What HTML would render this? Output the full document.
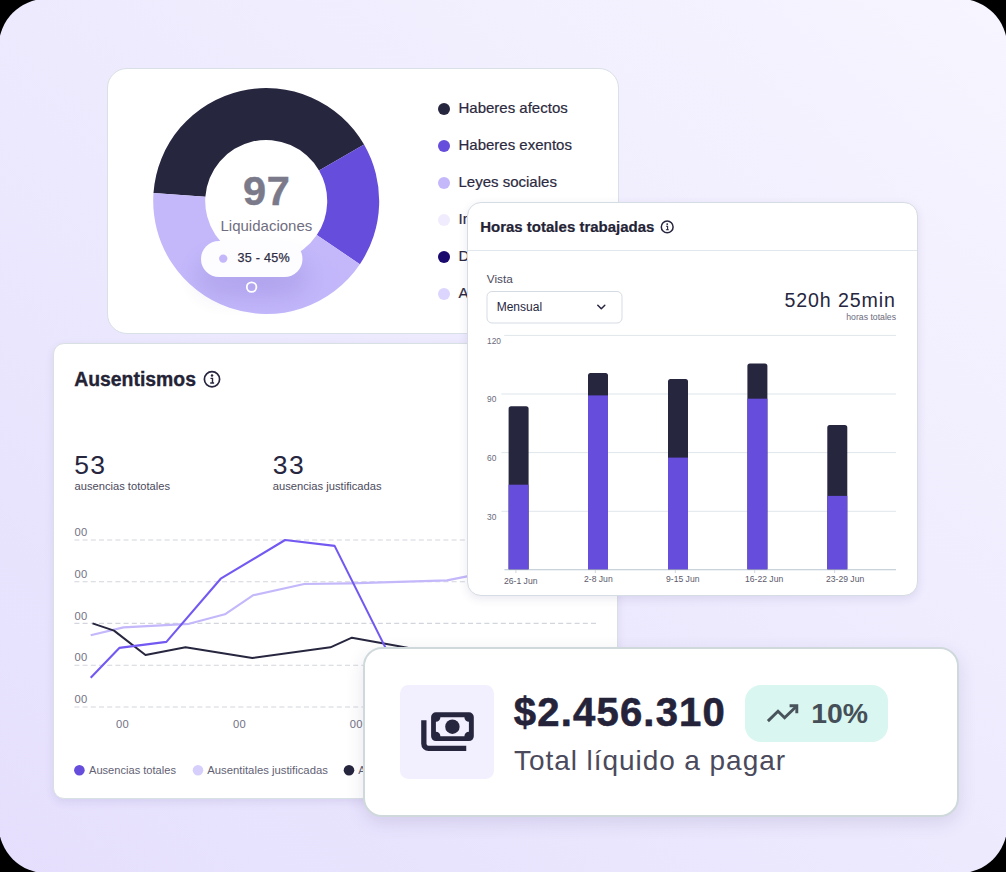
<!DOCTYPE html>
<html lang="es">
<head>
<meta charset="utf-8">
<title>Dashboard</title>
<style>
  html, body { margin: 0; padding: 0; background: #000; }
  body { width: 1006px; height: 872px; overflow: hidden; position: relative;
         font-family: "Liberation Sans", sans-serif; color: #27263f; }
  * { box-sizing: border-box; }
  .abs { position: absolute; }
  .t { position: absolute; white-space: nowrap; line-height: 1; }
  #stage { position: absolute; left: 0; top: 0; width: 1006px; height: 872px; overflow: hidden;
           background: transparent; }

  /* ---------- card 1 : donut ---------- */
  #donut-card { left: 107px; top: 68px; width: 512px; height: 266px; background: #fff;
                border: 1px solid #d9e0e6; border-radius: 20px; }
  .lg-dot { position: absolute; width: 12px; height: 12px; border-radius: 50%; margin-top: 0.4px; }
  .lg-txt { font-size: 15px; color: #2b2a40; margin-top: -1px; -webkit-text-stroke: 0.2px #2b2a40; }

  /* ---------- card 2 : ausentismos ---------- */
  #aus-card { left: 53.3px; top: 342.8px; width: 565px; height: 456.2px; background: #fff;
              border: 1px solid #d9e0e3; border-radius: 11px;
              box-shadow: 0 3px 8px rgba(70,60,130,0.10); }

  /* ---------- card 3 : horas ---------- */
  #hrs-card { left: 467px; top: 202px; width: 451px; height: 394px; background: #fff;
              border: 1px solid #d5dce3; border-radius: 14px;
              box-shadow: 0 3px 10px rgba(60,50,120,0.11); }

  .yl { font-size: 8.4px; color: #6b6a7b; }
  .xl { font-size: 8.6px; color: #5b5a6c; }

  .al { font-size: 11.2px; color: #737285; letter-spacing: 0.2px; }
  .ag { font-size: 11.1px; color: #626174; margin-top: 0.6px; }

  /* ---------- card 4 : total ---------- */
  #tot-card { left: 363.4px; top: 647.1px; width: 595.6px; height: 169.8px; background: #fff;
              border: 2px solid #cfd9dc; border-radius: 19px;
              box-shadow: 0 6px 18px rgba(60,50,110,0.13); }
</style>
</head>
<body>
<svg class="abs" style="left:0;top:0" width="1006" height="872" viewBox="0 0 1006 872">
  <defs>
    <linearGradient id="bggrad" gradientUnits="userSpaceOnUse" x1="71.4" y1="933.9" x2="934.6" y2="-61.9">
      <stop offset="0" stop-color="#e5dffd"/><stop offset="0.5" stop-color="#edeafe"/><stop offset="1" stop-color="#f7f5ff"/>
    </linearGradient>
  </defs>
  <rect x="-1.25" y="-1.25" width="1008.5" height="874.5" rx="48" ry="48" fill="url(#bggrad)"/>
</svg>
<div id="stage">

  <!-- ===================== DONUT CARD ===================== -->
  <div id="donut-card" class="abs"></div>
  <svg class="abs" style="left:0;top:0" width="1006" height="872" viewBox="0 0 1006 872">
    <defs>
      <clipPath id="lavclip"><path d="M359.88 264.19A113 113 0 0 1 153.48 193.12L205.35 196.74A61 61 0 0 0 316.77 235.11Z"/></clipPath>
      <radialGradient id="lavshade" cx="0.5" cy="0.5" r="0.5">
        <stop offset="0" stop-color="#a999f0" stop-opacity="0.22"/>
        <stop offset="0.55" stop-color="#b3a4f5" stop-opacity="0.11"/>
        <stop offset="1" stop-color="#c4b8fb" stop-opacity="0"/>
      </radialGradient>
      <filter id="pillshadow" x="-60%" y="-150%" width="220%" height="400%">
        <feGaussianBlur stdDeviation="10"/>
      </filter>
    </defs>
    <path d="M153.48 193.12A113 113 0 0 1 364.06 144.50L319.03 170.50A61 61 0 0 0 205.35 196.74Z" fill="#27263f"/>
    <path d="M364.06 144.50A113 113 0 0 1 359.88 264.19L316.77 235.11A61 61 0 0 0 319.03 170.50Z" fill="#664ddb"/>
    <path d="M359.88 264.19A113 113 0 0 1 153.48 193.12L205.35 196.74A61 61 0 0 0 316.77 235.11Z" fill="#c4b8fb"/>
    <g clip-path="url(#lavclip)">
      <ellipse cx="262" cy="284" rx="105" ry="55" fill="url(#lavshade)"/>
    </g>
    <!-- tooltip pill -->
    <rect x="196" y="254" width="112" height="44" rx="22" fill="#4a3c98" opacity="0.10" filter="url(#pillshadow)"/>
    <rect x="201" y="241" width="101.5" height="36" rx="18" fill="#fdfcff"/>
    <circle cx="223.2" cy="258.6" r="4.2" fill="#c4b8fb"/>
    <circle cx="251.6" cy="287.1" r="4.8" fill="none" stroke="#ffffff" stroke-width="1.8"/>
  </svg>
  <div class="t" id="d-97" style="left:243px;top:169.5px;font-size:41.5px;font-weight:700;color:#7b7a8b;letter-spacing:0.7px;-webkit-text-stroke:0.5px #7b7a8b;">97</div>
  <div class="t" id="d-liq" style="left:220.5px;top:217.5px;font-size:15px;color:#6f6e80;">Liquidaciones</div>
  <div class="t" id="d-pct" style="left:237.5px;top:252px;font-size:12.6px;color:#2f2e44;letter-spacing:0.25px;-webkit-text-stroke:0.25px #2f2e44;">35 - 45%</div>

  <div class="lg-dot" style="left:438px;top:102.2px;background:#27263f"></div>
  <div class="lg-dot" style="left:438px;top:139.4px;background:#664ddb"></div>
  <div class="lg-dot" style="left:438px;top:176.4px;background:#c4b8fb"></div>
  <div class="lg-dot" style="left:438px;top:213.6px;background:#f0ecfe"></div>
  <div class="lg-dot" style="left:438px;top:250.9px;background:#1b0a6e"></div>
  <div class="lg-dot" style="left:438px;top:287.9px;background:#dcd5fd"></div>
  <div class="t lg-txt" id="l1" style="left:458.5px;top:100.5px;">Haberes afectos</div>
  <div class="t lg-txt" id="l2" style="left:458.5px;top:137.7px;">Haberes exentos</div>
  <div class="t lg-txt" id="l3" style="left:458.5px;top:174.7px;">Leyes sociales</div>
  <div class="t lg-txt" id="l4" style="left:458.5px;top:211.9px;">Impuestos</div>
  <div class="t lg-txt" id="l5" style="left:458.5px;top:249.2px;">Descuentos</div>
  <div class="t lg-txt" id="l6" style="left:458.5px;top:286.2px;">Aportes</div>

  <!-- ===================== AUSENTISMOS CARD ===================== -->
  <div id="aus-card" class="abs"></div>
  <div class="t" id="a-title" style="left:74.2px;top:369.8px;font-size:19.4px;font-weight:700;color:#242336;-webkit-text-stroke:0.35px #242336;">Ausentismos</div>
  <svg class="abs" style="left:0;top:0" width="1006" height="872" viewBox="0 0 1006 872">
    <circle cx="212" cy="379.2" r="7.6" fill="none" stroke="#27263f" stroke-width="1.7"/>
    <circle cx="212" cy="375.6" r="1.25" fill="#27263f"/>
    <path d="M210.5 378.4h2v4.4M210.2 383h3.9" fill="none" stroke="#27263f" stroke-width="1.4"/>
    <path d="M74.4 540.0H598" stroke="#d3d5dc" stroke-width="1.1" stroke-dasharray="5 3.2" fill="none"/>
    <path d="M74.4 581.7H598" stroke="#d3d5dc" stroke-width="1.1" stroke-dasharray="5 3.2" fill="none"/>
    <path d="M74.4 623.4H598" stroke="#d3d5dc" stroke-width="1.1" stroke-dasharray="5 3.2" fill="none"/>
    <path d="M74.4 665.2H598" stroke="#d3d5dc" stroke-width="1.1" stroke-dasharray="5 3.2" fill="none"/>
    <path d="M74.4 707.0H598" stroke="#d3d5dc" stroke-width="1.1" stroke-dasharray="5 3.2" fill="none"/>
    <polyline points="90.7,635.2 123.5,627.4 189,623.8 224.9,614.3 252.9,595.3 304.2,584 350,583.4 447,580.4 467,576.3 500,570" fill="none" stroke="#c4b8fb" stroke-width="2.2" stroke-linejoin="round"/>
    <polyline points="92.5,623.4 114,630.6 145.5,655 185.5,647.3 252.3,658 330.4,647.3 351.9,637.7 397.8,646.1 430,652" fill="none" stroke="#27263f" stroke-width="2" stroke-linejoin="round"/>
    <polyline points="90.7,677.7 119.3,647.9 166.4,641.9 220.7,578.7 285.1,540 334.6,545.9 384.7,646.1 395,667" fill="none" stroke="#7359f2" stroke-width="2.1" stroke-linejoin="round"/>
    <circle cx="79.4" cy="770.2" r="5.3" fill="#664ddb"/>
    <circle cx="198" cy="770.2" r="5.3" fill="#d6cffc"/>
    <circle cx="349" cy="770.2" r="5.3" fill="#27263f"/>
  </svg>
  <div class="t" id="a-53" style="left:74.2px;top:452.4px;font-size:26.5px;color:#27263f;letter-spacing:1.4px;">53</div>
  <div class="t" id="a-33" style="left:272.8px;top:452.4px;font-size:26.5px;color:#27263f;letter-spacing:1.4px;">33</div>
  <div class="t" id="a-s1" style="left:74.6px;top:481px;font-size:11.15px;color:#4b4a5c;">ausencias tototales</div>
  <div class="t" id="a-s2" style="left:272.8px;top:481px;font-size:11.2px;color:#4b4a5c;">ausencias justificadas</div>
  <div class="t al" style="left:74.6px;top:527.2px;">00</div>
  <div class="t al" style="left:74.6px;top:568.9px;">00</div>
  <div class="t al" style="left:74.6px;top:610.6px;">00</div>
  <div class="t al" style="left:74.6px;top:652.4px;">00</div>
  <div class="t al" style="left:74.6px;top:694.2px;">00</div>
  <div class="t al" style="left:116px;top:719.2px;">00</div>
  <div class="t al" style="left:233px;top:719.2px;">00</div>
  <div class="t al" style="left:349.8px;top:719.2px;">00</div>
  <div class="t ag" style="left:89px;top:764.4px;">Ausencias totales</div>
  <div class="t ag" style="left:207.3px;top:764.4px;font-size:11.3px;">Ausentitales justificadas</div>
  <div class="t ag" style="left:358.3px;top:764.4px;">Ausencias</div>

  <!-- ===================== HORAS CARD ===================== -->
  <div id="hrs-card" class="abs"></div>
  <div class="abs" style="left:468px;top:249.8px;width:449px;height:1px;background:#e2e7ed"></div>
  <div class="t" id="h-title" style="left:480.2px;top:219px;font-size:15px;font-weight:700;color:#242336;-webkit-text-stroke:0.2px #242336;">Horas totales trabajadas</div>
  <svg class="abs" style="left:0;top:0" width="1006" height="872" viewBox="0 0 1006 872">
    <!-- info icon -->
    <circle cx="667.2" cy="226.9" r="5.9" fill="none" stroke="#27263f" stroke-width="1.5"/>
    <circle cx="667.2" cy="224.1" r="0.95" fill="#27263f"/>
    <path d="M666.1 226.3h1.5v3.4M665.9 229.8h2.9" fill="none" stroke="#27263f" stroke-width="1.1"/>
    <!-- select -->
    <rect x="487" y="291.5" width="135" height="31.5" rx="5" fill="#fff" stroke="#d5dbe3" stroke-width="1"/>
    <path d="M597.8 305.2l3.5 3.6l3.5 -3.6" fill="none" stroke="#27263f" stroke-width="1.5" stroke-linecap="round" stroke-linejoin="round"/>
    <!-- grid -->
    <rect x="504.2" y="334.9" width="391.8" height="1" fill="#dfe6ea"/>
    <rect x="501.4" y="393.5" width="394.6" height="1" fill="#dfe6ea"/>
    <rect x="501.4" y="452.1" width="394.6" height="1" fill="#dfe6ea"/>
    <rect x="501.4" y="510.8" width="394.6" height="1" fill="#dfe6ea"/>
    <rect x="504.4" y="569" width="391.6" height="1.3" fill="#c9d3dc"/>
    <path d="M508.6 569.3V408.7a2.5 2.5 0 0 1 2.5 -2.5h15a2.5 2.5 0 0 1 2.5 2.5V569.3Z" fill="#27263f"/>
    <rect x="508.6" y="484.7" width="20" height="84.6" fill="#664ddb"/>
    <path d="M588.0 569.3V375.5a2.5 2.5 0 0 1 2.5 -2.5h15a2.5 2.5 0 0 1 2.5 2.5V569.3Z" fill="#27263f"/>
    <rect x="588.0" y="395.4" width="20" height="173.9" fill="#664ddb"/>
    <path d="M668.0 569.3V381.5a2.5 2.5 0 0 1 2.5 -2.5h15a2.5 2.5 0 0 1 2.5 2.5V569.3Z" fill="#27263f"/>
    <rect x="668.0" y="457.6" width="20" height="111.7" fill="#664ddb"/>
    <path d="M747.4 569.3V366.1a2.5 2.5 0 0 1 2.5 -2.5h15a2.5 2.5 0 0 1 2.5 2.5V569.3Z" fill="#27263f"/>
    <rect x="747.4" y="398.7" width="20" height="170.6" fill="#664ddb"/>
    <path d="M827.3 569.3V427.4a2.5 2.5 0 0 1 2.5 -2.5h15a2.5 2.5 0 0 1 2.5 2.5V569.3Z" fill="#27263f"/>
    <rect x="827.3" y="495.9" width="20" height="73.4" fill="#664ddb"/>
    <!-- ticks -->
    <g fill="#cfd6df">
      <rect x="515.4" y="570" width="1" height="3"/><rect x="594.8" y="570" width="1" height="3"/>
      <rect x="674.8" y="570" width="1" height="3"/><rect x="754.2" y="570" width="1" height="3"/>
      <rect x="834.1" y="570" width="1" height="3"/>
    </g>
  </svg>
  <div class="t" id="h-vista" style="left:486.8px;top:274px;font-size:11.8px;color:#4b4a5c;">Vista</div>
  <div class="t" id="h-mens" style="left:496.7px;top:300.6px;font-size:12px;color:#27263f;">Mensual</div>
  <div class="t" id="h-520" style="right:110.2px;top:291.2px;font-size:19.6px;color:#27263f;letter-spacing:0.9px;">520h 25min</div>
  <div class="t" id="h-ht" style="right:110px;top:312.8px;font-size:8.7px;color:#6b6a7b;">horas totales</div>
  <div class="t yl" style="left:487px;top:337.2px;">120</div>
  <div class="t yl" style="left:487px;top:395.3px;">90</div>
  <div class="t yl" style="left:487px;top:453.7px;">60</div>
  <div class="t yl" style="left:487px;top:512.6px;">30</div>
  <div class="t xl" style="left:504px;top:576.5px;">26-1 Jun</div>
  <div class="t xl" style="left:584px;top:574.5px;">2-8 Jun</div>
  <div class="t xl" style="left:666px;top:574.5px;">9-15 Jun</div>
  <div class="t xl" style="left:745px;top:574.5px;">16-22 Jun</div>
  <div class="t xl" style="left:826px;top:574.5px;">23-29 Jun</div>

  <!-- ===================== TOTAL CARD ===================== -->
  <div id="tot-card" class="abs"></div>
  <div class="abs" style="left:400px;top:685px;width:94px;height:94px;border-radius:8.5px;background:#f2effe"></div>
  <div class="abs" style="left:745px;top:685px;width:143px;height:57px;border-radius:16px;background:#d9f6f0"></div>
  <svg class="abs" style="left:0;top:0" width="1006" height="872" viewBox="0 0 1006 872">
    <!-- money icon -->
    <path fill="#27263f" fill-rule="evenodd" d="
      M435.9 712.3h33.1a4.8 4.8 0 0 1 4.8 4.8v19.2a4.8 4.8 0 0 1 -4.8 4.8h-33.1a4.8 4.8 0 0 1 -4.8 -4.8v-19.2a4.8 4.8 0 0 1 4.8 -4.8Z
      M440.4 717.3a4.5 4.5 0 0 1 -4.5 4.5v9.9a4.5 4.5 0 0 1 4.5 4.5h24a4.5 4.5 0 0 1 4.5 -4.5v-9.9a4.5 4.5 0 0 1 -4.5 -4.5Z"/>
    <circle cx="452.4" cy="726.7" r="7.2" fill="#27263f"/>
    <path d="M423.85 720.3v23.4a4.7 4.7 0 0 0 4.7 4.7h37.7" fill="none" stroke="#27263f" stroke-width="5.3"/>
    <!-- trend arrow -->
    <path d="M767.9 721.1l10.1 -9.9l6.6 6.6l11.9 -11.6" fill="none" stroke="#48535b" stroke-width="2.9" stroke-linejoin="miter"/>
    <path d="M789.6 705.8h7.2v7.5" fill="none" stroke="#48535b" stroke-width="2.9" stroke-linejoin="miter"/>
  </svg>
  <div class="t" id="t-amt" style="left:513.8px;top:692.4px;font-size:40px;font-weight:700;color:#24233a;letter-spacing:1.2px;-webkit-text-stroke:0.6px #24233a;">$2.456.310</div>
  <div class="t" id="t-sub" style="left:514px;top:746.8px;font-size:28px;color:#4b4a5c;letter-spacing:0.94px;">Total líquido a pagar</div>
  <div class="t" id="t-pct" style="left:811.2px;top:699px;font-size:28.4px;font-weight:700;color:#454f57;">10%</div>

</div>
</body>
</html>
